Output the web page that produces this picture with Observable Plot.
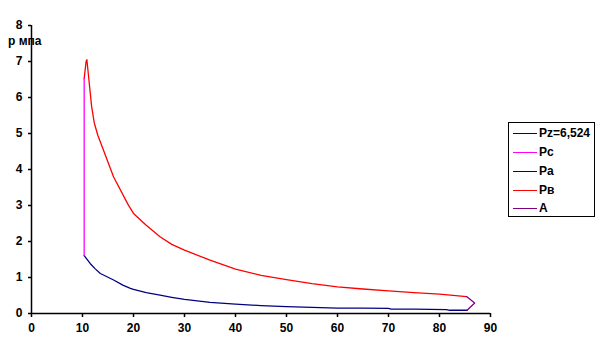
<!DOCTYPE html>
<html>
<head>
<meta charset="utf-8">
<script src="https://cdn.jsdelivr.net/npm/d3@7"></script>
<script src="https://cdn.jsdelivr.net/npm/@observablehq/plot@0.6"></script>
<style>
  html, body { margin: 0; padding: 0; background: #fff; }
  #wrap { position: relative; width: 601px; height: 355px; font-family: "Liberation Sans", Arial, sans-serif; font-weight: bold; }
  #ylab { position: absolute; left: 8px; top: 34px; font-size: 12px; line-height: 14px; white-space: nowrap; }
  #legend { position: absolute; left: 508px; top: 122px; width: 85px; height: 93px; border: 1px solid #000; box-sizing: content-box; font-size: 12px; }
  .row { position: absolute; left: 4px; height: 14px; line-height: 14px; }
  .sw { position: absolute; left: 0; top: 7px; width: 24px; height: 1px; }
  .tx { position: absolute; left: 26px; top: 0; white-space: nowrap; }
</style>
</head>
<body>
<div id="wrap">
  <div id="chart"></div>
  <div id="ylab">р мпа</div>
  <div id="legend"></div>
</div>
<script>
// Series names and colours
const seriesNames = ["Pz=6,524", "Pc", "Pa", "Pв", "A"];
const seriesColors = ["#000080", "#FF00FF", "#000080", "#FF0000", "#800080"];

// Pz: single value (shown in legend only)
const pzX = [10.33];
const pzY = [6.524];

// Pc: vertical line at end of compression
const pcX = [10.33, 10.33];
const pcY = [1.61, 6.524];

// Pa: compression curve
const paX = [10.33, 11.5, 12.5, 13.5, 16.1, 18, 19.4, 20, 22.5, 25.2, 27.5, 30, 35, 40, 45, 50, 55, 60, 65, 70, 70.5, 75, 81.4, 82, 85.4];
const paY = [1.61, 1.39, 1.24, 1.11, 0.93, 0.78, 0.70, 0.67, 0.58, 0.51, 0.45, 0.39, 0.31, 0.26, 0.22, 0.19, 0.17, 0.15, 0.15, 0.14, 0.12, 0.12, 0.11, 0.09, 0.09];

// Pв: expansion curve
const pvX = [10.33, 10.7, 10.86, 11.2, 11.8, 12.3, 13.0, 14.1, 16.1, 19.0, 20.0, 22.5, 25.2, 27.5, 30, 35, 40, 45, 50, 55, 60, 65, 70, 75, 80, 85.3];
const pvY = [6.524, 7.0, 7.05, 6.57, 5.74, 5.30, 4.95, 4.54, 3.79, 3.01, 2.78, 2.45, 2.13, 1.92, 1.76, 1.48, 1.23, 1.06, 0.94, 0.83, 0.74, 0.68, 0.63, 0.58, 0.54, 0.47];

// A: exhaust corner
const aX = [85.3, 86.9, 85.4];
const aY = [0.47, 0.29, 0.09];

// Tick values
const xTicks = [0, 10, 20, 30, 40, 50, 60, 70, 80, 90];
const yTicks = [0, 1, 2, 3, 4, 5, 6, 7, 8];

const toRows = (xs, ys) => xs.map((x, i) => ({x, y: ys[i]}));

const chart = Plot.plot({
  width: 601,
  height: 355,
  marginLeft: 31,
  marginRight: 111,
  marginTop: 25,
  marginBottom: 42,
  style: {fontFamily: "'Liberation Sans', Arial, sans-serif", fontSize: "12px", fontWeight: "bold", color: "#000", background: "#fff"},
  x: {domain: [0, 90], ticks: xTicks, tickSize: 4, tickPadding: 6, label: null},
  y: {domain: [0, 8], ticks: yTicks, tickSize: 3, tickPadding: 6, label: null},
  marks: [
    Plot.ruleY([0], {stroke: "#000", strokeWidth: 1.5}),
    Plot.ruleX([0], {stroke: "#000", strokeWidth: 1.5}),
    Plot.line(toRows(paX, paY), {x: "x", y: "y", stroke: seriesColors[2], strokeWidth: 1.3}),
    Plot.line(toRows(pvX, pvY), {x: "x", y: "y", stroke: seriesColors[3], strokeWidth: 1.3}),
    Plot.line(toRows(pcX, pcY), {x: "x", y: "y", stroke: seriesColors[1], strokeWidth: 1.3}),
    Plot.line(toRows(aX, aY), {x: "x", y: "y", stroke: seriesColors[4], strokeWidth: 1.3}),
    Plot.axisX({ticks: xTicks, tickSize: 4, tickPadding: 6, stroke: "#000", strokeWidth: 1.5, strokeOpacity: 1, label: null}),
    Plot.axisY({ticks: yTicks, tickSize: 3, tickPadding: 6, stroke: "#000", strokeWidth: 1.5, strokeOpacity: 1, label: null})
  ]
});
document.getElementById("chart").appendChild(chart);

const legend = document.getElementById("legend");
const rowTops = [3, 22, 41, 60, 78];
seriesNames.forEach((name, i) => {
  const row = document.createElement("div");
  row.className = "row";
  row.style.top = rowTops[i] + "px";
  const sw = document.createElement("div");
  sw.className = "sw";
  sw.style.backgroundColor = seriesColors[i];
  const t = document.createElement("div");
  t.className = "tx";
  t.textContent = name;
  row.appendChild(sw);
  row.appendChild(t);
  legend.appendChild(row);
});
</script>
</body>
</html>
